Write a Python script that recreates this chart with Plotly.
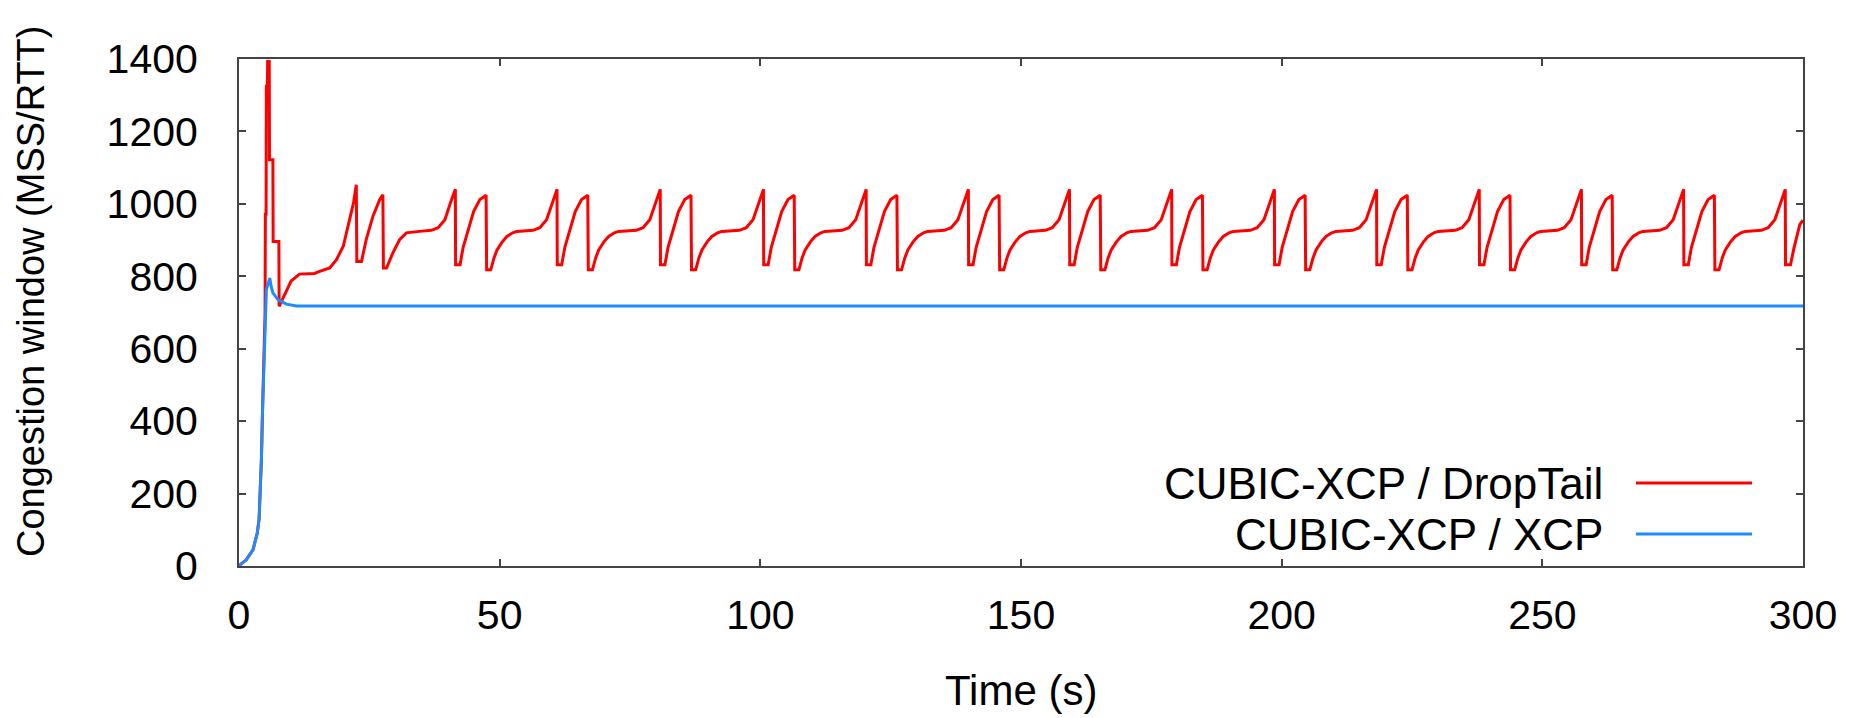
import plotly.graph_objects as go

# ---------------- data ----------------
x_ticks = [0, 50, 100, 150, 200, 250, 300]
y_ticks = [0, 200, 400, 600, 800, 1000, 1200, 1400]

series_names = ["CUBIC-XCP / DropTail", "CUBIC-XCP / XCP"]

# CUBIC-XCP / DropTail  (time in s, cwnd in MSS/RTT)
red_t = [
    0, 1.4, 2.7, 3.5, 3.85, 4.3, 4.5, 4.8, 5.0, 5.06,
    5.2, 5.25, 5.45, 5.5, 5.8, 5.85, 6.5, 6.55, 7.65, 7.7,
    8.4, 9.1, 10.0, 11.6, 14.5, 15.2, 16.4, 17.4, 18.7, 20.0,
    21.2, 22.0, 22.5, 22.6, 23.5, 24.4, 25.7, 27.0, 27.6, 27.7,
    28.3, 29.5, 30.8, 32.1, 34.6, 36.9, 38.2, 39.5, 40.5,
    41.5, 41.55, 42.4, 43.0, 44.0, 45.0, 46.2, 47.4, 47.5, 48.3, 48.9, 49.5, 50.5, 51.4, 52.5, 53.3, 56.4, 57.7, 59.0, 60.0,
    61.0, 61.05, 61.9, 62.5, 63.5, 64.5, 65.7, 66.9, 67.0, 67.8, 68.4, 69.0, 70.0, 70.9, 72.0, 72.8, 76.2, 77.5, 78.8, 79.8,
    80.8, 80.85, 81.7, 82.3, 83.3, 84.3, 85.5, 86.7, 86.8, 87.6, 88.2, 88.8, 89.8, 90.7, 91.8, 92.6, 96.0, 97.3, 98.6, 99.6,
    100.6, 100.65, 101.5, 102.1, 103.1, 104.1, 105.3, 106.5, 106.6, 107.4, 108.0, 108.6, 109.6, 110.5, 111.6, 112.4, 115.7, 117.0, 118.3, 119.3,
    120.3, 120.35, 121.2, 121.8, 122.8, 123.8, 125.0, 126.2, 126.3, 127.1, 127.7, 128.3, 129.3, 130.2, 131.3, 132.1, 135.3, 136.6, 137.9, 138.9,
    139.9, 139.95, 140.8, 141.4, 142.4, 143.4, 144.6, 145.8, 145.9, 146.7, 147.3, 147.9, 148.9, 149.8, 150.9, 151.7, 154.7, 156.0, 157.3, 158.3,
    159.3, 159.35, 160.2, 160.8, 161.8, 162.8, 164.0, 165.2, 165.3, 166.1, 166.7, 167.3, 168.3, 169.2, 170.3, 171.1, 174.3, 175.6, 176.9, 177.9,
    178.9, 178.95, 179.8, 180.4, 181.4, 182.4, 183.6, 184.8, 184.9, 185.7, 186.3, 186.9, 187.9, 188.8, 189.9, 190.7, 194.0, 195.3, 196.6, 197.6,
    198.6, 198.65, 199.5, 200.1, 201.1, 202.1, 203.3, 204.5, 204.6, 205.4, 206.0, 206.6, 207.6, 208.5, 209.6, 210.4, 213.6, 214.9, 216.2, 217.2,
    218.2, 218.25, 219.1, 219.7, 220.7, 221.7, 222.9, 224.1, 224.2, 225.0, 225.6, 226.2, 227.2, 228.1, 229.2, 230.0, 233.3, 234.6, 235.9, 236.9,
    237.9, 237.95, 238.8, 239.4, 240.4, 241.4, 242.6, 243.8, 243.9, 244.7, 245.3, 245.9, 246.9, 247.8, 248.9, 249.7, 252.9, 254.2, 255.5, 256.5,
    257.5, 257.55, 258.4, 259.0, 260.0, 261.0, 262.2, 263.4, 263.5, 264.3, 264.9, 265.5, 266.5, 267.4, 268.5, 269.3, 272.5, 273.8, 275.1, 276.1,
    277.1, 277.15, 278.0, 278.6, 279.6, 280.6, 281.8, 283.0, 283.1, 283.9, 284.5, 285.1, 286.1, 287.0, 288.1, 288.9, 292.0, 293.3, 294.6, 295.6,
    296.6, 296.65, 297.6, 298.3, 299.4, 300.0,
]
red_cwnd = [
    1, 17, 45, 91, 128, 294, 422, 556, 700, 971,
    971, 1325, 1330, 1393, 1393, 1122, 1122, 896, 896, 717,
    738, 760, 787, 806, 808, 812, 818, 823, 846, 883,
    956, 1005, 1053, 841, 841, 901, 966, 1012, 1025, 823,
    823, 864, 901, 920, 924, 927, 934, 956, 1000,
    1040, 832, 832, 880, 933, 979, 1012, 1024, 818, 818, 850, 873, 895, 910, 920, 924, 927, 934, 956, 1000,
    1040, 832, 832, 880, 933, 979, 1012, 1024, 818, 818, 850, 873, 895, 910, 920, 924, 927, 934, 956, 1000,
    1040, 832, 832, 880, 933, 979, 1012, 1024, 818, 818, 850, 873, 895, 910, 920, 924, 927, 934, 956, 1000,
    1040, 832, 832, 880, 933, 979, 1012, 1024, 818, 818, 850, 873, 895, 910, 920, 924, 927, 934, 956, 1000,
    1040, 832, 832, 880, 933, 979, 1012, 1024, 818, 818, 850, 873, 895, 910, 920, 924, 927, 934, 956, 1000,
    1040, 832, 832, 880, 933, 979, 1012, 1024, 818, 818, 850, 873, 895, 910, 920, 924, 927, 934, 956, 1000,
    1040, 832, 832, 880, 933, 979, 1012, 1024, 818, 818, 850, 873, 895, 910, 920, 924, 927, 934, 956, 1000,
    1040, 832, 832, 880, 933, 979, 1012, 1024, 818, 818, 850, 873, 895, 910, 920, 924, 927, 934, 956, 1000,
    1040, 832, 832, 880, 933, 979, 1012, 1024, 818, 818, 850, 873, 895, 910, 920, 924, 927, 934, 956, 1000,
    1040, 832, 832, 880, 933, 979, 1012, 1024, 818, 818, 850, 873, 895, 910, 920, 924, 927, 934, 956, 1000,
    1040, 832, 832, 880, 933, 979, 1012, 1024, 818, 818, 850, 873, 895, 910, 920, 924, 927, 934, 956, 1000,
    1040, 832, 832, 880, 933, 979, 1012, 1024, 818, 818, 850, 873, 895, 910, 920, 924, 927, 934, 956, 1000,
    1040, 832, 832, 880, 933, 979, 1012, 1024, 818, 818, 850, 873, 895, 910, 920, 924, 927, 934, 956, 1000,
    1040, 832, 832, 880, 943, 955,
]

# CUBIC-XCP / XCP
blue_t = [0, 1.4, 2.7, 3.5, 3.85, 4.3, 4.5, 4.8, 5.06, 5.25, 5.6, 5.9, 6.2, 6.5, 7.5, 9.1, 11.0, 300]
blue_cwnd = [1, 17, 45, 91, 128, 294, 422, 556, 689, 763, 780, 795, 770, 754, 735, 723, 718, 718]

# ---------------- styling ----------------
RED = "#ff0000"
BLUE = "#1e8cff"
FONT = "Liberation Sans, Arial, Helvetica, sans-serif"
AXC = "#444444"

# the page body has an 8px default margin; compensate so the plot lands where the reference has it
OFF = 8
W, H = 1862 - OFF, 718 - OFF
PLOT_L, PLOT_R, PLOT_T, PLOT_B = 239, 1803, 59, 566   # page pixels of the plot frame
L, R, T, B = PLOT_L - OFF, 1862 - PLOT_R, PLOT_T - OFF, 718 - PLOT_B
pw, ph = PLOT_R - PLOT_L, PLOT_B - PLOT_T


def px_x(px):
    return (px - PLOT_L) / pw


def px_y(py):
    return (PLOT_B - py) / ph


fig = go.Figure()
fig.add_trace(go.Scatter(x=red_t, y=red_cwnd, mode="lines", name=series_names[0],
                         line=dict(color=RED, width=3), showlegend=False))
fig.add_trace(go.Scatter(x=blue_t, y=blue_cwnd, mode="lines", name=series_names[1],
                         line=dict(color=BLUE, width=3), showlegend=False))

axis_common = dict(showgrid=False, zeroline=False, showline=True, linecolor=AXC, linewidth=2,
                   mirror="ticks", ticks="inside", ticklen=7, tickwidth=1.5, tickcolor=AXC,
                   tickfont=dict(family=FONT, size=41, color="#000000"))

fig.update_xaxes(range=[0, 300], tickvals=x_ticks, ticktext=[str(v) for v in x_ticks],
                 ticklabelstandoff=12, **axis_common)
fig.update_yaxes(range=[0, 1400], tickvals=y_ticks, ticktext=[str(v) for v in y_ticks],
                 ticklabelstandoff=31, **axis_common)

annotations = [
    dict(text="Time (s)", x=0.5, y=px_y(690), xref="paper", yref="paper",
         xanchor="center", yanchor="middle", showarrow=False,
         font=dict(family=FONT, size=42, color="#000000")),
    dict(text="Congestion window (MSS/RTT)", x=px_x(31), y=px_y(291), xref="paper", yref="paper",
         xanchor="center", yanchor="middle", showarrow=False, textangle=-90,
         font=dict(family=FONT, size=38, color="#000000")),
]
legend_rows = [(series_names[0], RED, 483), (series_names[1], BLUE, 534)]
shapes = []
for name, col, py in legend_rows:
    annotations.append(dict(text=name, x=px_x(1605), y=px_y(py), xref="paper", yref="paper",
                            xanchor="right", yanchor="middle", showarrow=False,
                            font=dict(family=FONT, size=44, color="#000000")))
    shapes.append(dict(type="line", xref="paper", yref="paper",
                       x0=px_x(1636), x1=px_x(1752), y0=px_y(py), y1=px_y(py),
                       line=dict(color=col, width=3)))

fig.update_layout(width=W, height=H, margin=dict(l=L, r=R, t=T, b=B, pad=0),
                  paper_bgcolor="white", plot_bgcolor="white",
                  annotations=annotations, shapes=shapes, showlegend=False)

fig.write_html("out.html")
